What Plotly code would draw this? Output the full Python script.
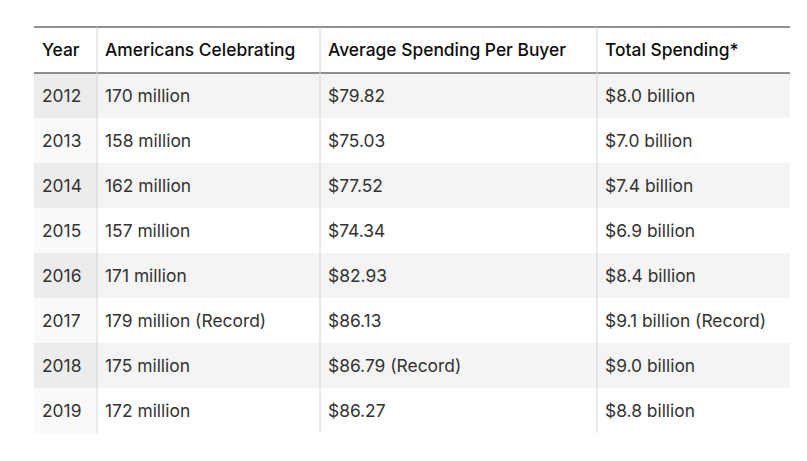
import plotly.graph_objects as go

# ---- data ----
headers = ["Year", "Americans Celebrating", "Average Spending Per Buyer", "Total Spending*"]
years = ["2012", "2013", "2014", "2015", "2016", "2017", "2018", "2019"]
americans = ["170 million", "158 million", "162 million", "157 million",
             "171 million", "179 million (Record)", "175 million", "172 million"]
avg_spending = ["$79.82", "$75.03", "$77.52", "$74.34",
                "$82.93", "$86.13", "$86.79 (Record)", "$86.27"]
total_spending = ["$8.0 billion", "$7.0 billion", "$7.4 billion", "$6.9 billion",
                  "$8.4 billion", "$9.1 billion (Record)", "$9.0 billion", "$8.8 billion"]

# ---- layout/style ----
OFF = 8                      # page body margin
W, H = 807 - 2 * OFF, 461 - 2 * OFF
left, right = 34 - OFF, 790 - OFF
top = 27 - OFF
text_shift = 8
header_h = 46
row_h = 45
col_px = [63, 223, 277, 193]

n = len(years)
band = ["#f4f4f4" if i % 2 == 0 else "#ffffff" for i in range(n)]
band_year = ["#ececec" if i % 2 == 0 else "#f9f9f9" for i in range(n)]
fills = [band_year, band, band, band]
blank = [[""] * n for _ in headers]

font_family = "Inter, Roboto, sans-serif"
noline = dict(width=0, color="rgba(0,0,0,0)")

# background table: cell fills only
bg = go.Table(
    domain=dict(x=[left / W, right / W], y=[0, 1 - top / H]),
    columnwidth=col_px,
    header=dict(values=[""] * len(headers), height=header_h,
                fill_color="#ffffff", line=noline),
    cells=dict(values=blank, height=row_h, fill_color=fills, line=noline),
)

# text table: transparent fills, shifted down to centre text vertically
fg = go.Table(
    domain=dict(x=[left / W, right / W], y=[0, 1 - (top + text_shift) / H]),
    columnwidth=col_px,
    header=dict(
        values=headers, align="left", height=header_h,
        fill_color="rgba(0,0,0,0)", line=noline,
        font=dict(family=font_family, size=17.4, color="#0d0d0d", weight=500),
    ),
    cells=dict(
        values=[years, americans, avg_spending, total_spending],
        align="left", height=row_h,
        fill_color="rgba(0,0,0,0)", line=noline,
        font=dict(family=font_family, size=17.4, color="#333333"),
    ),
)

fig = go.Figure([bg, fg])

shapes = []
bottom = top + header_h + row_h * n
for yy in (top, top + header_h):
    shapes.append(dict(type="line", xref="paper", yref="paper",
                       x0=left / W, x1=right / W, y0=1 - yy / H, y1=1 - yy / H,
                       line=dict(color="#6b6b6b", width=1.5)))
x = left
for w in col_px[:-1]:
    x += w
    shapes.append(dict(type="line", xref="paper", yref="paper",
                       x0=x / W, x1=x / W, y0=1 - top / H, y1=1 - bottom / H,
                       line=dict(color="#d4d4d4", width=1)))

fig.update_layout(width=W, height=H, margin=dict(l=0, r=0, t=0, b=0),
                  paper_bgcolor="#ffffff", shapes=shapes)
fig.write_html("out.html")
